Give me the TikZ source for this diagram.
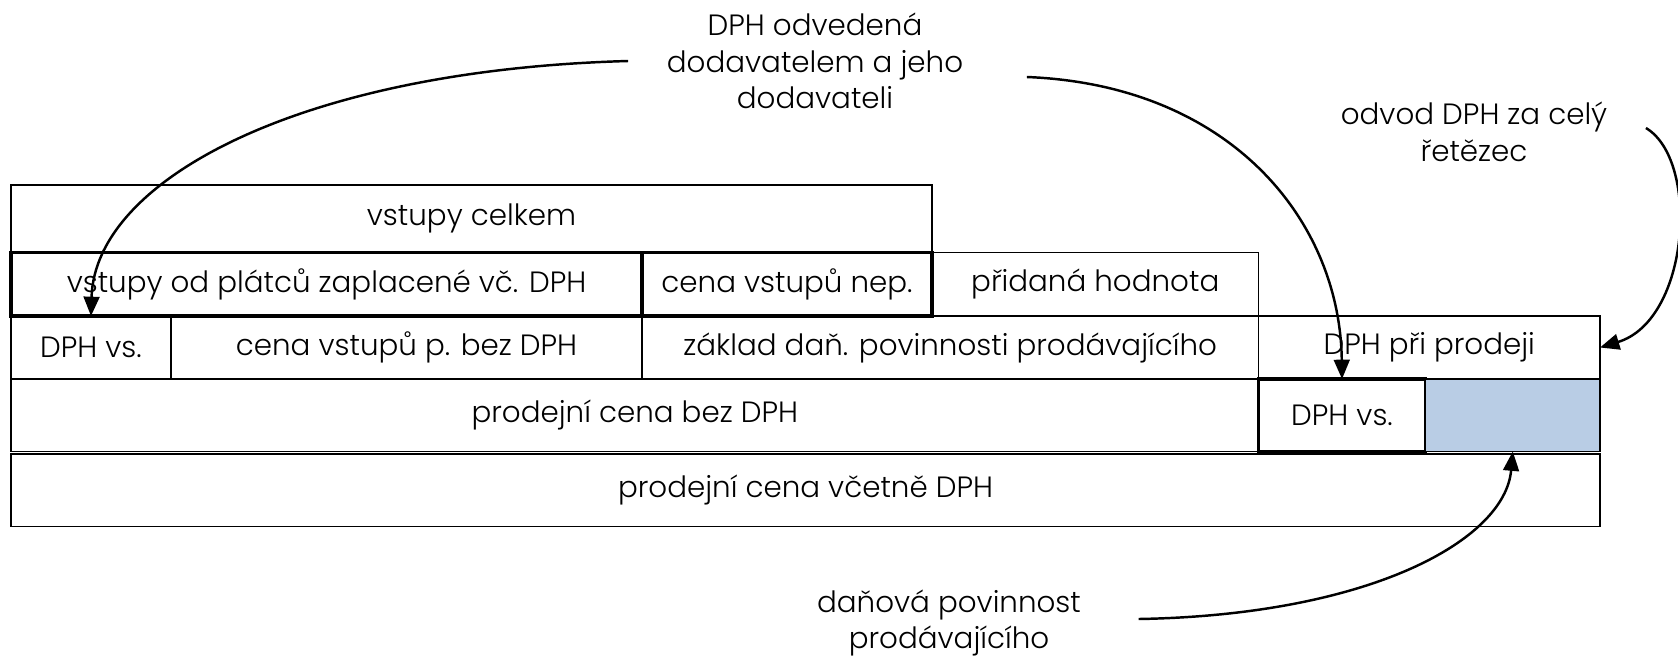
\documentclass[tikz,border=0pt]{standalone}
\usepackage{fontspec}
\setmainfont{Poppins Light}
\usetikzlibrary{arrows.meta}
\definecolor{dphblue}{RGB}{185,205,229}
\begin{document}
\begin{tikzpicture}[
  cell/.style={rectangle, draw, anchor=north west, inner sep=0pt, outer sep=0pt, line width=0.45pt},
  bold/.style={line width=0.9pt},
  note/.style={align=center, inner sep=0pt},
  link/.style={-{Triangle[length=5.5pt,width=4.5pt]}, line width=0.7pt},
  font=\fontsize{8.35}{10.4}\selectfont
]
\useasboundingbox (0,0) rectangle (16.78,-6.55);

% rows of the price
\node[cell, minimum width=9.21cm, minimum height=0.675cm] (celkem) at (0.11,-1.85) {vstupy celkem};

\node[cell, bold, minimum width=6.31cm, minimum height=0.635cm] (platce) at (0.11,-2.525) {vstupy od plátců zaplacené vč. DPH};
\node[cell, bold, minimum width=2.90cm, minimum height=0.635cm] (nepl) at (6.42,-2.525) {cena vstupů nep.};
\node[cell, minimum width=3.265cm, minimum height=0.635cm] (pridana) at (9.32,-2.525) {přidaná hodnota};

\node[cell, minimum width=1.60cm, minimum height=0.63cm] (dphvs) at (0.11,-3.16) {DPH vs.};
\node[cell, minimum width=4.71cm, minimum height=0.63cm] (cenabez) at (1.71,-3.16) {cena vstupů p. bez DPH};
\node[cell, minimum width=6.165cm, minimum height=0.63cm] (zaklad) at (6.42,-3.16) {základ daň. povinnosti prodávajícího};
\node[cell, minimum width=3.415cm, minimum height=0.63cm] (dphprod) at (12.585,-3.16) {DPH při prodeji};

\node[cell, minimum width=12.475cm, minimum height=0.725cm] (bezdph) at (0.11,-3.79) {prodejní cena bez DPH};
\node[cell, bold, minimum width=1.67cm, minimum height=0.725cm] (dphvsb) at (12.585,-3.79) {DPH vs.};
\node[cell, fill=dphblue, minimum width=1.745cm, minimum height=0.725cm] (povin) at (14.255,-3.79) {};

\node[cell, minimum width=15.89cm, minimum height=0.725cm] (vcetne) at (0.11,-4.54) {prodejní cena včetně DPH};

% notes
\node[note] (odved) at (8.15,-0.61) {DPH odvedená\\dodavatelem a jeho\\dodavateli};
\node[note] (odvod) at (14.74,-1.32) {odvod DPH za celý\\řetězec};
\node[note] (danpov) at (9.49,-6.23) {daňová povinnost\\prodávajícího};

\draw[link] ([xshift=-0.38cm]odved.west) .. controls (3.0,-0.70) and (0.95,-1.80) .. (dphvs.north);
\draw[link] ([xshift=0.63cm,yshift=-0.16cm]odved.east) .. controls (12.3,-0.85) and (13.4,-2.2) .. (dphvsb.north);
\draw[link] ([xshift=0.38cm,yshift=0.04cm]odvod.east) .. controls (17.0,-1.6) and (16.9,-3.2) .. (dphprod.east);
\draw[link] ([xshift=0.57cm,yshift=0.04cm]danpov.east) .. controls (13.7,-6.15) and (15.05,-5.4) .. (povin.south);
\end{tikzpicture}
\end{document}
